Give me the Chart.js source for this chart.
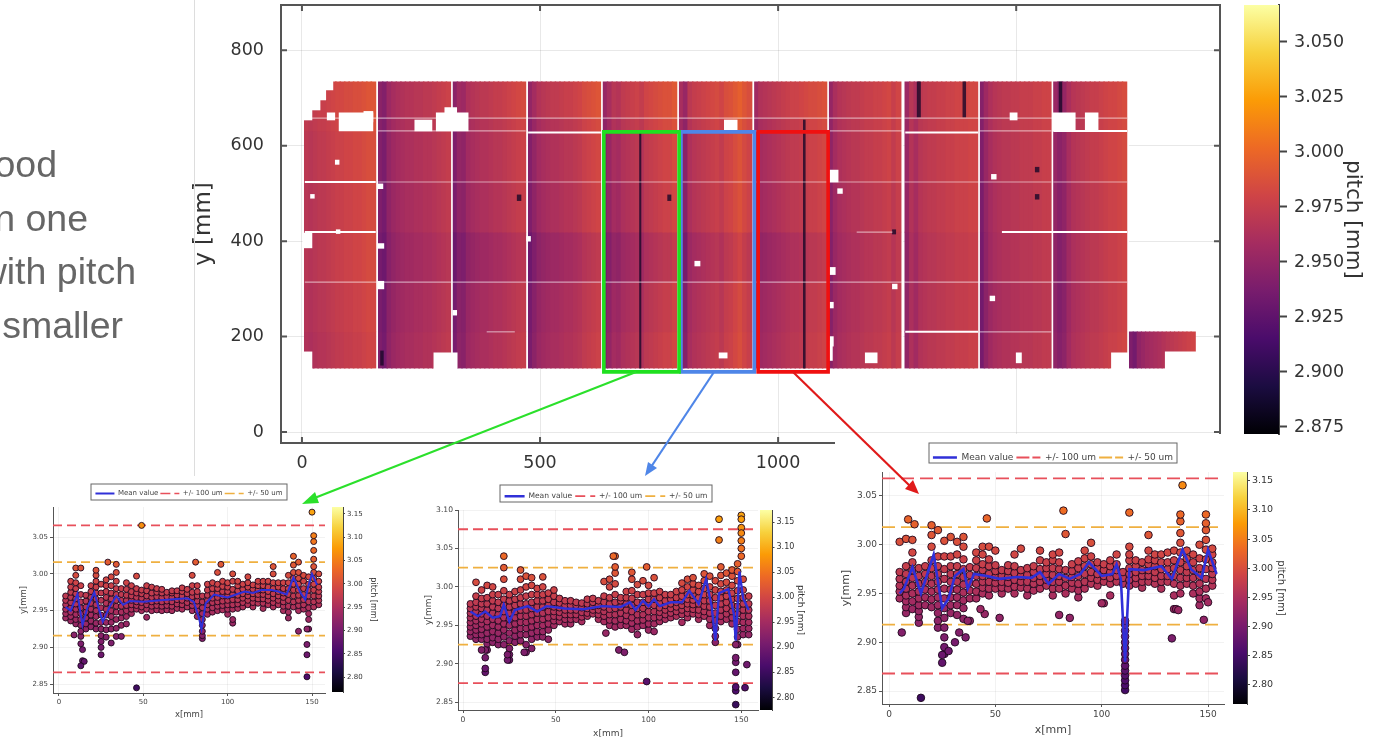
<!DOCTYPE html>
<html>
<head>
<meta charset="utf-8">
<title>pitch map</title>
<script src="https://cdn.jsdelivr.net/npm/chart.js@4/dist/chart.umd.min.js"></script>
<style>
  html, body { margin: 0; padding: 0; background: #fff; overflow: hidden; }
  body { width: 1383px; height: 739px; position: relative; }
  canvas { position: absolute; display: block; }
  .soft { filter: blur(0.6px); }
  .softer { filter: blur(0.7px); }
  .note { position: absolute; font: 37.5px "Liberation Sans", Arial, sans-serif; color: #666; white-space: nowrap; filter: blur(0.4px); }
  #divider { position: absolute; left: 194px; top: 0; width: 1px; height: 476px; background: #ddd; }
  #arrows { position: absolute; left: 0; top: 0; z-index: 20; }
</style>
</head>
<body>
<div class="note" style="right:1326px;top:143px">ood</div>
<div class="note" style="right:1295px;top:197px">n one</div>
<div class="note" style="right:1247px;top:250px">with pitch</div>
<div class="note" style="right:1260px;top:304px">smaller</div>

<canvas id="mainChart" class="soft" width="1050" height="480" style="left:190px;top:0;z-index:1"></canvas>
<canvas id="mainBar" class="soft" width="125" height="439" style="left:1240px;top:0;z-index:6"></canvas>
<div id="divider" style="z-index:2"></div>

<canvas id="greenChart" class="softer" width="358" height="243" style="left:10px;top:477px;z-index:3"></canvas>
<canvas id="greenBar" class="softer" width="50" height="195" style="left:328px;top:502px;z-index:4"></canvas>
<canvas id="blueChart" class="softer" width="392" height="262" style="left:410px;top:477px;z-index:3"></canvas>
<canvas id="blueBar" class="softer" width="50" height="210" style="left:756px;top:505px;z-index:4"></canvas>
<canvas id="redChart" class="softer" width="436" height="303" style="left:835px;top:434px;z-index:3;background:#fff"></canvas>
<canvas id="redBar" class="softer" width="58" height="242" style="left:1229px;top:467px;z-index:4"></canvas>

<svg id="arrows" width="1383" height="739">
  <line x1="636" y1="372" x2="312" y2="499" stroke="#2be02b" stroke-width="2.2"/>
  <polygon points="302,504 315,492 319,503" fill="#2be02b"/>
  <line x1="714" y1="372" x2="651" y2="467" stroke="#4f86e8" stroke-width="2.2"/>
  <polygon points="645,476 648,462 657,468" fill="#4f86e8"/>
  <line x1="793" y1="372" x2="910" y2="486" stroke="#e01a1a" stroke-width="2.2"/>
  <polygon points="919,494 905,489 913,480" fill="#e01a1a"/>
</svg>

<script>
// ---- main map: x / y in mm, pitch as thousandths above 2 mm (968 = 2.968)
const mainXTicks = [0, 500, 1000, 1500];
const mainYTicks = [0, 200, 400, 600, 800];
const mainBarTicks = [2.875, 2.9, 2.925, 2.95, 2.975, 3.0, 3.025, 3.05];

const moduleEdges = [[6,155],[160,313],[317,470],[475,628],[632,788],[792,945],[950,1103],[1107,1258],[1267,1420],[1424,1574],[1578,1733]];
const rowBands = [[658,734],[631,658],[524,631],[419,524],[314,419],[210,314],[134,210]];

const moduleStrips = [
  [968,966,968,970,970,972,974,976,976,978,978,980,980,982,984,984],
  [942,938,950,955,958,960,962,962,964,964,966,966,968,970,972,974],
  [938,948,946,955,958,960,962,962,964,966,966,968,970,972,974,976],
  [940,948,955,958,960,962,962,964,966,966,968,970,974,976,978,980],
  [942,950,958,956,962,964,966,968,964,970,972,974,976,978,978,982],
  [950,942,960,964,966,968,970,972,974,970,976,978,982,986,980,976],
  [948,956,958,960,962,964,966,968,970,970,972,974,976,976,978,980],
  [945,955,960,962,964,966,966,968,970,970,972,972,974,976,970,975],
  [950,964,958,966,968,970,970,972,972,974,974,976,976,976,978,978],
  [938,950,958,962,964,966,966,968,968,970,970,970,972,972,974,974],
  [950,944,948,958,964,966,968,970,972,972,974,976,978,978,980,982]
];
const moduleRowShift = [
  [6,4,2,0,0,-2,-4],
  [4,2,0,-2,-6,-4,-2],
  [8,4,2,0,-7,-3,-1],
  [10,4,2,0,-8,-4,-2],
  [10,6,2,0,-8,-3,0],
  [10,6,3,2,-6,-2,0],
  [8,4,2,0,-7,-3,-1],
  [6,4,3,0,-3,-2,0],
  [4,3,2,1,-2,-2,-1],
  [5,4,2,0,-2,-4,-2],
  [3,2,2,0,-2,-3,-1]
];
const lastModuleEdge = [1737, 1876];
const lastModuleRow = [134, 210];
const lastModuleStrips = [940,935,948,952,956,958,960,962,965,968,970,972,974,976,978,980];

// [x0, x1, y0, y1]
const holeRects = [
  [2,65,717,736],[2,50,696,717],[2,38,675,696],[2,21,654,675],[53,69,654,669],[78,149,631,669],[130,149,650,672],
  [2,21,386,417],[2,21,130,168],[237,273,631,654],[282,349,631,669],[300,325,669,680],[277,326,130,166],
  [887,914,631,654],[876,893,155,166],[1107,1126,524,549],[1107,1114,150,190],[1183,1208,145,166],
  [1487,1502,654,669],[1500,1511,145,166],[1578,1624,631,669],[1645,1672,631,669],[1700,1736,130,166],
  [1813,1880,130,168],[70,78,561,570],[18,26,490,498],[72,80,416,424],[160,170,510,520],[160,172,300,316],
  [160,172,385,395],[317,325,245,255],[472,480,400,410],[1240,1250,300,310],[825,836,348,358],[1108,1120,330,345],
  [1108,1116,260,272],[1108,1116,180,200],[1125,1135,500,510],[1445,1455,275,285],[1448,1458,530,540]
];
// [x0, x1, y0, y1]
const darkRects = [
  [709,712,134,631],[1053,1057,134,654],[1292,1299,660,734],[1388,1394,660,734],[452,460,485,497],[768,775,485,497],
  [1540,1548,488,498],[1540,1548,545,555],[1240,1247,415,424],[165,171,140,170],[1590,1596,640,734]
];
// [x0, x1, y]
const strongSeams = [[6,155,524],[6,155,419],[475,628,628],[1267,1420,628],[1267,1420,210],[1470,1733,419],[1578,1733,631]];
const faintSeams = [
  [6,1733,658],[160,470,631],[632,1261,631],[1424,1574,631],[160,1574,524],[1578,1733,524],[6,1733,314],
  [388,447,210],[1424,1574,210],[1165,1240,419]
];
const moduleGaps = [158,315,473,630,790,948,1105,1261,1422,1576,1735];
// [x0, x1, y0, y1]
const greenBox = [634,792,126,629];
const blueBox = [796,950,126,629];
const redBox = [958,1105,126,629];

// ---- colour bar ticks
const insetBarTicks = [2.8, 2.85, 2.9, 2.95, 3.0, 3.05, 3.1, 3.15];
const insetXTicks = [0, 50, 100, 150];
const insetYTicks = [2.85, 2.9, 2.95, 3.0, 3.05];
const blueYTicks = [2.85, 2.9, 2.95, 3.0, 3.05, 3.1];

// ---- left plot (green box)
const greenX = [4,7,10,13,16,19,22,25,28,31,34,37,40,43,46,49,52,55,58,61,64,67,70,73,76,79,82,85,88,91,94,97,100,103,106,109,112,115,118,121,124,127,130,133,136,139,142,145,148,151,154];
const greenColumns = [
  [940,946,952,958,964,970],[936,942,948,954,961,968,975,982,990],[932,938,945,952,959,966,973,980,988,998,1008],
  [905,915,922,930,938,946,954,962,972,984,1008],[925,932,940,948,955,963,971],[928,936,944,952,960,968,976,984],
  [925,933,942,950,958,966,974,982,990,998,1005],[890,900,908,916,925,934,944,954,964,974,986],[914,924,934,944,952,960,968,976,984,992],
  [925,934,942,950,958,966,974,984,996],[915,926,938,948,956,964,972,980,990,1002,1013],[915,930,940,948,956,964,972,980],
  [932,942,950,957,964,971,979,988],[946,952,958,964,970,976,984],[952,957,962,968,974,980,997],[950,955,961,967,973,978],
  [941,952,958,964,970,977,984],[950,956,962,968,974,982],[951,957,963,969,975,980],[950,956,962,968,974,979],
  [951,957,963,969,975],[950,956,962,968,974,977],[953,959,965,971,977],[952,958,964,970,976,981],[955,961,967,973,979],
  [950,957,963,969,975,984,998],[942,950,957,963,970,976,984],[912,916,922,930,938,946,954,962,970],[945,952,958,964,971,978,986],
  [948,954,961,967,973,980,988],[950,956,962,968,974,980,986,1002],[951,957,963,970,976,983,990],[945,952,958,964,970,976,982,988],
  [933,938,952,958,965,972,979,990,1000],[953,959,965,971,977,984,990],[955,961,967,973,979,986],[958,964,970,976,982,988,996],
  [955,961,967,973,979,985],[960,966,972,978,984,990],[953,960,966,972,978,984,990],[958,964,970,976,982,990],
  [955,961,967,973,980,988,1000,1010],[958,964,970,976,982,988],[950,956,962,968,974,980,988],[940,948,956,964,972,980,988,998],
  [955,962,970,978,986,994,1002,1012,1024],[950,957,964,971,978,986,994,1002],[952,958,965,972,980,990,998],
  [925,938,946,954,962,970,978,986,996],[955,962,970,978,986,994,1002,1010,1020,1032,1044,1052],[958,964,970,976,982,990,1000]
];
const greenOutX = [49,29,81,96,46,147,147,147,147,142,31,9,14,15,13,150,142,14];
const greenOutY = [1066,1016,1016,1013,845,860,890,904,925,922,906,917,882,881,875,1084,1016,897];
const greenMeanX = [4,7,11,14,17,21,24,26,30,34,38,42,50,60,70,76,80,83,84.5,87,92,100,105,110,115,120,126,130,135,139,143,146,148,150,153];
const greenMeanY = [2.955,2.95,2.973,2.93,2.955,2.975,2.95,2.935,2.955,2.97,2.958,2.963,2.962,2.964,2.966,2.967,2.962,2.94,2.925,2.96,2.972,2.968,2.972,2.976,2.974,2.978,2.978,2.976,2.972,2.995,2.975,2.965,2.985,3.0,2.985];
const greenLimits = [3.066, 3.016, 2.916, 2.866];

// ---- middle plot (blue box)
const blueX = greenX;
const blueColumns = [
  [936,942,948,954,960,966,972,978],[932,938,944,950,956,962,968,974,980,988,1006],[932,938,945,952,958,965,972,978,985,996],
  [918,926,932,940,948,955,962,970,978,986,1002],[928,934,942,950,958,966,974,982,990,1000],[925,932,940,948,956,964,972,980,990],
  [925,935,944,952,960,968,976,984,995,1010,1025,1040],[905,912,920,930,940,950,958,966,974,982,990],[928,936,944,952,960,968,976,984,994],
  [930,938,946,954,962,970,978,986,996,1010,1022],[915,925,938,946,954,962,970,978,988,1000,1014],[920,932,940,948,956,964,972,980,990,1002,1012],
  [935,942,950,958,966,974,982,990,998],[935,942,950,958,966,974,982,990,1000,1013],[932,944,952,960,968,976,984,992],
  [950,956,962,968,974,980,988,996],[955,961,967,973,979,985],[952,958,964,970,976,982],[952,958,964,970,976,982],
  [958,964,970,976,980],[955,961,967,973,979],[962,966,972,978,984],[965,970,975,980,985],[958,964,970,976,982],
  [955,962,968,974,980,988,1007],[950,957,964,971,978,986,1000,1010],[948,956,964,972,980,990,1004,1018,1026,1040],[950,958,966,974,982,986],
  [950,956,963,970,978,986,994],[945,953,960,968,976,985,995,1010,1019],[938,948,956,964,972,980,990,1003],[950,957,964,972,980,990,1008],
  [944,952,960,968,976,984,992,1002],[942,952,960,968,976,984,992,1012],[955,961,967,973,979,986,994],[958,964,970,976,982,990],
  [960,966,972,978,984,990],[962,968,974,980,986,994],[954,964,970,976,982,988,996,1005],[960,966,972,978,984,990,1000,1010],
  [965,971,977,983,989,996,1004,1012],[958,964,970,978,986,994,1002],[962,968,975,982,990,998,1008,1017],[950,958,966,974,982,990,1000,1014],
  [928,936,946,956,966,976,986,996,1008],[955,962,970,978,986,994,1004,1015,1026],[958,965,972,980,988,996,1006,1018],
  [952,960,968,976,984,992,1002,1014,1022],[925,935,945,955,965,975,985,995,1008,1020,1030],[938,946,954,962,970,978,986,996,1010],
  [938,946,954,962,970,978,988]
];
const blueOutX = [150,150,150,150,150,150,150,138,138,81,99,77,84,87,99,147,147,147,147,147,147,147,153,152,12,12,12,12,10,24,24,33];
const blueOutY = [1093,1088,1077,1070,1060,1050,1040,1088,1061,1040,1026,940,918,915,877,847,865,870,889,902,908,925,899,869,889,894,908,918,918,905,912,915];
const blueMeanX = [4,8,12,16,20,22,25,28,35,40,45,55,65,75,85,90,93,97,100,103,106,112,118,122,127,131,134,136,138,143,146,147,149,151,154];
const blueMeanY = [2.968,2.962,2.968,2.96,2.962,2.977,2.955,2.97,2.975,2.968,2.975,2.972,2.971,2.975,2.974,2.98,2.97,2.982,2.975,2.984,2.975,2.98,2.98,2.995,2.978,3.01,2.975,2.93,2.992,2.997,2.965,2.93,3.02,2.985,2.97];
const blueLimits = [3.075, 3.025, 2.925, 2.875];

// ---- right plot (red box)
const redX = [5,8,11,14,17,20,23,26,29,32,35,38,41,44,47,50,53,56,59,62,65,68,71,74,77,80,83,86,89,92,95,98,101,104,107,110,113,116,119,122,125,128,131,134,137,140,143,146,149,152];
const redColumns = [
  [945,952,958,965,972,1003],[930,936,942,948,955,962,970,978,1006],[934,942,950,958,966,974,982,992,1005],[920,926,932,938,945,952,960,968,976],
  [938,946,954,962,970,978],[936,944,952,960,968,976,984,998,1010,1020],[915,922,930,938,946,954,962,970,978,988,1015],
  [888,895,905,915,925,935,945,955,965,975,988,1004],[930,938,946,954,962,970,978,988,1008],[928,938,946,954,962,970,978,990,1003],
  [924,935,943,951,959,967,975,985,998,1008],[922,945,953,961,969,977],[945,952,960,968,976,984,992],[950,956,962,968,974,980,990,998],
  [948,955,962,970,978,985,998],[955,961,967,973,979,994],[950,956,962,968,974],[955,961,967,973,979],[950,957,964,971,978,990],
  [956,962,968,974,996],[948,955,962,969,976],[953,960,966,972,978],[955,962,968,975,984,994],[958,964,970,976,982],[948,955,962,969,976,984,990],
  [955,962,968,975,982,992],[950,958,966,974,1011],[955,961,967,973,980],[946,953,960,968,976,983],[955,962,970,978,986,994],
  [960,966,972,980,988,1002],[958,964,970,976,982],[940,962,968,974,980],[948,960,966,972,978,984],[962,968,974,980,990],[960,966,972],
  [958,964,970,976,984,990,998],[960,966,972,978,984],[956,962,968,974,982],[962,968,974,980,985,994],[960,966,972,978,984,990],
  [955,962,968,975,982,990],[962,968,975,982,992],[934,948,960,968,976,984,994],[950,958,966,974,982,992,1002,1012,1024,1031],
  [960,966,972,978,986,994],[950,958,966,974,982,990],[938,945,952,960,968,976,986,1000],[945,955,965,975,985,995,1005,1015,1022,1031],
  [958,964,970,976,982,990,996]
];
const redOutX = [111,111,111,111,111,111,111,111,111,111,111,111,111,111,15,6,9,12,46,82,113,138,122,133,36,31,28,25,25,33,37,45,43,52,80,85,148,135,136,150,100];
const redOutY = [851,856,861,866,871,876,882,888,894,900,906,912,918,922,843,910,1026,1021,1027,1035,1033,1061,1010,904,905,900,891,879,887,910,922,929,934,925,928,925,923,934,933,941,940];
const redMeanX = [5,7,11,15,18,21,25,28,31,35,37,40,46,52,60,67,71,75,80,85,90,94,100,105,107,109,111,113,120,128,133,138,142,147,150,154];
const redMeanY = [2.95,2.955,2.977,2.95,2.97,2.99,2.935,2.945,2.968,2.975,2.955,2.97,2.968,2.965,2.967,2.966,2.972,2.96,2.97,2.965,2.97,2.982,2.968,2.97,2.98,2.965,2.88,2.975,2.974,2.978,2.965,2.995,2.975,2.966,2.995,2.97];
const redLimits = [3.068, 3.018, 2.918, 2.868];

const legendNames = ['Mean value', '+/- 100 um', '+/- 50 um'];

// inferno palette
const inferno = ['#000004','#1b0c41','#4a0c6b','#781c6d','#a52c60','#cf4446','#ed6925','#fb9b06','#f7d13d','#fcffa4'];

function hexRgb(h) {
  return [1, 3, 5].map(i => parseInt(h.substr(i, 2), 16));
}

function infernoColor(t) {
  t = Math.max(0, Math.min(1, t));
  const pos = t * (inferno.length - 1);
  const i = Math.min(Math.floor(pos), inferno.length - 2);
  const a = hexRgb(inferno[i]);
  const b = hexRgb(inferno[i + 1]);
  const c = a.map((v, k) => Math.round(v + (b[k] - v) * (pos - i)));
  return `rgb(${c[0]},${c[1]},${c[2]})`;
}

Chart.defaults.font.family = '"DejaVu Sans", sans-serif';
Chart.defaults.animation = false;
Chart.defaults.responsive = false;

const fixedTicks = list => scale => { scale.ticks = list.map(v => ({ value: v })); };

// ---- main map
const MAIN_MIN = 2.8718;
const MAIN_MAX = 3.0668;
const PX_PER_MM = 939 / 1972;
const pitchColor = p => infernoColor((2 + p / 1000 - MAIN_MIN) / (MAIN_MAX - MAIN_MIN));

function bandDataset(band, bandIndex) {
  const data = [];
  const colors = [];
  moduleEdges.forEach(([x0, x1], m) => {
    const w = (x1 - x0) / moduleStrips[m].length;
    moduleStrips[m].forEach((p, s) => {
      data.push({ x: x0 + w * (s + 0.5), y: band });
      colors.push(pitchColor(p + moduleRowShift[m][bandIndex]));
    });
  });
  return { type: 'bar', data, backgroundColor: colors, barThickness: 5.4, grouped: false, order: 6, borderWidth: 0 };
}

function lastModuleDataset() {
  const w = (lastModuleEdge[1] - lastModuleEdge[0]) / lastModuleStrips.length;
  return {
    type: 'bar',
    data: lastModuleStrips.map((p, s) => ({ x: lastModuleEdge[0] + w * (s + 0.5), y: lastModuleRow })),
    backgroundColor: lastModuleStrips.map(pitchColor),
    barThickness: w * PX_PER_MM + 0.5, grouped: false, order: 6, borderWidth: 0
  };
}

function rectDataset(r, color, order) {
  return {
    type: 'bar',
    data: [{ x: (r[0] + r[1]) / 2, y: [r[2], r[3]] }],
    backgroundColor: color,
    barThickness: (r[1] - r[0]) * PX_PER_MM, grouped: false, order, borderWidth: 0
  };
}

function lineDataset(points, color, width, order) {
  return {
    type: 'line', data: points, borderColor: color, borderWidth: width,
    pointRadius: 0, fill: false, tension: 0, order
  };
}

function boxDataset(b, color) {
  const pts = [[b[0],b[2]],[b[1],b[2]],[b[1],b[3]],[b[0],b[3]],[b[0],b[2]]].map(p => ({ x: p[0], y: p[1] }));
  const ds = lineDataset(pts, color, 3.6, 0);
  ds.borderCapStyle = 'square';
  ds.borderJoinStyle = 'miter';
  return ds;
}

const boxFrame = {
  id: 'boxFrame',
  afterDatasetsDraw(chart) {
    const { ctx, chartArea: a, scales } = chart;
    ctx.save();
    ctx.strokeStyle = '#555';
    ctx.lineWidth = 2;
    ctx.strokeRect(a.left, a.top, a.right - a.left, a.bottom - a.top);
    ctx.beginPath();
    scales.x.ticks.forEach(t => {
      const px = scales.x.getPixelForValue(t.value);
      ctx.moveTo(px, a.top); ctx.lineTo(px, a.top + 6);
      ctx.moveTo(px, a.bottom); ctx.lineTo(px, a.bottom - 6);
    });
    scales.y.ticks.forEach(t => {
      const py = scales.y.getPixelForValue(t.value);
      ctx.moveTo(a.left, py); ctx.lineTo(a.left + 6, py);
      ctx.moveTo(a.right, py); ctx.lineTo(a.right - 6, py);
    });
    ctx.stroke();
    ctx.restore();
  }
};

const mainDatasets = [
  boxDataset(greenBox, '#1fe01f'),
  boxDataset(blueBox, '#4f86e8'),
  boxDataset(redBox, '#f01010'),
  ...holeRects.map(r => rectDataset(r, '#fff', 2)),
  ...strongSeams.map(s => lineDataset([{ x: s[0], y: s[2] }, { x: s[1], y: s[2] }], '#fff', 2, 2)),
  ...faintSeams.map(s => lineDataset([{ x: s[0], y: s[2] }, { x: s[1], y: s[2] }], 'rgba(255,255,255,0.55)', 1.2, 3)),
  ...moduleGaps.map(x => lineDataset([{ x, y: 132 }, { x, y: 736 }], '#fff', 1.6, 3)),
  ...darkRects.map(r => rectDataset(r, 'rgba(25,8,40,0.8)', 4)),
  ...rowBands.map(bandDataset),
  lastModuleDataset()
];

new Chart(document.getElementById('mainChart'), {
  type: 'bar',
  data: { datasets: mainDatasets },
  plugins: [boxFrame],
  options: {
    layout: { padding: { top: 5, right: 20 } },
    plugins: { legend: { display: false }, tooltip: { enabled: false } },
    scales: {
      x: {
        type: 'linear', offset: false, min: -44, max: 1928,
        grid: { color: 'rgba(0,0,0,0.09)', drawTicks: false, offset: false },
        border: { display: false },
        afterBuildTicks: fixedTicks(mainXTicks),
        afterFit: s => { s.height = 37; },
        ticks: { color: '#333', font: { size: 17.5 }, padding: 10, maxRotation: 0, autoSkip: false, callback: v => String(v) }
      },
      y: {
        min: -23, max: 895,
        grid: { color: 'rgba(0,0,0,0.09)', drawTicks: false },
        border: { display: false },
        afterBuildTicks: fixedTicks(mainYTicks),
        afterFit: s => { s.width = 91; s.paddingTop = 5; },
        ticks: { color: '#333', font: { size: 17.5 }, padding: 17, autoSkip: false },
        title: { display: true, text: 'y [mm]', color: '#333', font: { size: 23 }, padding: 0 }
      }
    }
  }
});

// ---- colour bars
function makeBar(id, min, max, tickList, digits, opt) {
  new Chart(document.getElementById(id), {
    type: 'bar',
    data: {
      labels: [''],
      datasets: [{
        data: [[min, max]],
        borderWidth: 0,
        barPercentage: 1,
        categoryPercentage: 1,
        backgroundColor: c => {
          const a = c.chart.chartArea;
          if (!a) return '#000';
          const g = c.chart.ctx.createLinearGradient(0, a.bottom, 0, a.top);
          inferno.forEach((col, i) => g.addColorStop(i / (inferno.length - 1), col));
          return g;
        }
      }]
    },
    options: {
      layout: { padding: { left: opt.left, top: opt.pad, bottom: opt.pad } },
      plugins: { legend: { display: false }, tooltip: { enabled: false } },
      scales: {
        x: { display: false },
        y: {
          position: 'right', min, max,
          grid: { drawOnChartArea: false, tickLength: opt.tick, tickColor: '#444', tickWidth: opt.lineW },
          border: { color: '#444', width: opt.lineW },
          afterBuildTicks: fixedTicks(tickList),
          afterFit: s => { s.width = opt.width; s.paddingTop = opt.pad; s.paddingBottom = opt.pad; },
          ticks: { color: '#333', font: { size: opt.font }, padding: opt.padTick, autoSkip: false, callback: v => v.toFixed(digits) },
          title: { display: true, text: 'pitch [mm]', color: '#333', font: { size: opt.titleFont }, padding: 0 }
        }
      }
    }
  });
}

makeBar('mainBar', MAIN_MIN, MAIN_MAX, mainBarTicks, 3, { left: 4, pad: 5, width: 86, tick: 8, font: 17.5, titleFont: 21.5, padTick: 7, lineW: 2 });
makeBar('greenBar', 2.768, 3.165, insetBarTicks, 2, { left: 4, pad: 5, width: 35, tick: 2, font: 7, titleFont: 8, padTick: 2, lineW: 1 });
makeBar('blueBar', 2.775, 3.174, insetBarTicks, 2, { left: 4, pad: 5, width: 34, tick: 2.5, font: 8, titleFont: 9, padTick: 2, lineW: 1 });
makeBar('redBar', 2.767, 3.165, insetBarTicks, 2, { left: 4, pad: 5, width: 40, tick: 3, font: 9.5, titleFont: 10, padTick: 2, lineW: 1 });

// ---- the three zoomed plots
const legendFrame = {
  id: 'legendFrame',
  afterDraw(chart) {
    const { ctx } = chart;
    const m = chart.options.plugins.legendFrame;
    ctx.save();
    ctx.strokeStyle = '#666';
    ctx.lineWidth = 1;
    ctx.strokeRect(m.left, m.top, m.width, m.height);
    ctx.restore();
  }
};

function makeInset(id, cfg) {
  const points = [];
  cfg.xs.forEach((x, i) => cfg.columns[i].forEach(v => points.push({ x, y: 2 + v / 1000 })));
  cfg.outX.forEach((x, i) => points.push({ x, y: 2 + cfg.outY[i] / 1000 }));
  const limitLine = v => [{ x: cfg.xRange[0], y: v }, { x: cfg.xRange[1], y: v }];
  const dashed = (v, color, label, dash) => ({
    type: 'line', label, data: limitLine(v), borderColor: color, backgroundColor: color,
    borderWidth: cfg.dashW, borderDash: dash, pointRadius: 0, order: 3
  });
  new Chart(document.getElementById(id), {
    type: 'scatter',
    data: {
      datasets: [
        {
          type: 'line', label: legendNames[0],
          data: cfg.meanX.map((x, i) => ({ x, y: cfg.meanY[i] })),
          borderColor: '#3030d8', backgroundColor: '#3030d8', borderWidth: cfg.meanW, pointRadius: 0, tension: 0, order: 1
        },
        dashed(cfg.limits[0], '#e8505b', legendNames[1], cfg.dash),
        dashed(cfg.limits[1], '#efb040', legendNames[2], cfg.dash),
        dashed(cfg.limits[2], '#efb040', '', cfg.dash),
        dashed(cfg.limits[3], '#e8505b', '', cfg.dash),
        {
          label: '', data: points, order: 2,
          pointRadius: cfg.radius, borderWidth: 1, borderColor: 'rgba(30,8,30,0.9)',
          backgroundColor: c => infernoColor((c.raw.y - cfg.barRange[0]) / (cfg.barRange[1] - cfg.barRange[0]))
        }
      ]
    },
    plugins: [legendFrame],
    options: {
      layout: { padding: { top: cfg.padTop } },
      plugins: {
        tooltip: { enabled: false },
        legendFrame: cfg.frame,
        legend: {
          labels: {
            boxWidth: cfg.legendBox, boxHeight: 0, padding: cfg.legendPad, color: '#444',
            font: { size: cfg.legendFont }, filter: item => item.text !== ''
          }
        }
      },
      scales: {
        x: {
          type: 'linear', min: cfg.xRange[0], max: cfg.xRange[1],
          grid: { color: 'rgba(0,0,0,0.05)', tickLength: 3, tickColor: '#555' },
          border: { color: '#555' },
          afterBuildTicks: fixedTicks(insetXTicks),
          afterFit: s => { s.height = cfg.bottom; },
          ticks: { color: '#444', font: { size: cfg.tickFont }, padding: 2, maxRotation: 0, autoSkip: false },
          title: { display: true, text: 'x[mm]', color: '#444', font: { size: cfg.titleFont }, padding: 0 }
        },
        y: {
          min: cfg.yRange[0], max: cfg.yRange[1],
          grid: { color: 'rgba(0,0,0,0.05)', tickLength: 3, tickColor: '#555' },
          border: { color: '#555' },
          afterBuildTicks: fixedTicks(cfg.yTicks),
          afterFit: s => { s.width = cfg.left; s.paddingTop = cfg.plotTop; },
          ticks: { color: '#444', font: { size: cfg.tickFont }, padding: 2, autoSkip: false, callback: v => v.toFixed(2) },
          title: { display: true, text: 'y[mm]', color: '#444', font: { size: cfg.titleFont }, padding: cfg.titlePad }
        },
        // empty axis, only keeps the right margin out of the legend's centring
        yPad: {
          axis: 'y', position: 'right', display: true,
          grid: { display: false }, border: { display: false }, ticks: { display: false },
          afterFit: s => { s.width = cfg.padRight; }
        }
      }
    }
  });
}

makeInset('greenChart', {
  xs: greenX, columns: greenColumns, outX: greenOutX, outY: greenOutY, meanX: greenMeanX, meanY: greenMeanY, limits: greenLimits,
  xRange: [-3.5, 157.7], yRange: [2.838, 3.091], barRange: [2.768, 3.165], yTicks: insetYTicks,
  radius: 3, meanW: 2, dashW: 1.7, dash: [9, 5], left: 43, padRight: 43, bottom: 27, padTop: 9, plotTop: 30,
  legendBox: 19, legendPad: 2, legendFont: 7, tickFont: 7, titleFont: 8.5, titlePad: { top: 9 },
  frame: { left: 81, top: 7, width: 196, height: 16 }
});
makeInset('blueChart', {
  xs: blueX, columns: blueColumns, outX: blueOutX, outY: blueOutY, meanX: blueMeanX, meanY: blueMeanY, limits: blueLimits,
  xRange: [-2.7, 159], yRange: [2.84, 3.1], barRange: [2.775, 3.174], yTicks: blueYTicks,
  radius: 3.4, meanW: 2.4, dashW: 1.8, dash: [10, 5], left: 48, padRight: 44, bottom: 29, padTop: 10, plotTop: 33,
  legendBox: 20, legendPad: 3, legendFont: 7.6, tickFont: 7.6, titleFont: 9, titlePad: { top: 13 },
  frame: { left: 90, top: 8, width: 212, height: 17 }
});
makeInset('redChart', {
  xs: redX, columns: redColumns, outX: redOutX, outY: redOutY, meanX: redMeanX, meanY: redMeanY, limits: redLimits,
  xRange: [-3.3, 157.5], yRange: [2.8367, 3.0746], barRange: [2.767, 3.165], yTicks: insetYTicks,
  radius: 3.8, meanW: 2.6, dashW: 1.8, dash: [13, 6], left: 47, padRight: 47, bottom: 33, padTop: 11, plotTop: 38,
  legendBox: 24, legendPad: 3, legendFont: 9, tickFont: 9, titleFont: 11, titlePad: { top: 5 },
  frame: { left: 94, top: 9, width: 248, height: 20 }
});
</script>
</body>
</html>
